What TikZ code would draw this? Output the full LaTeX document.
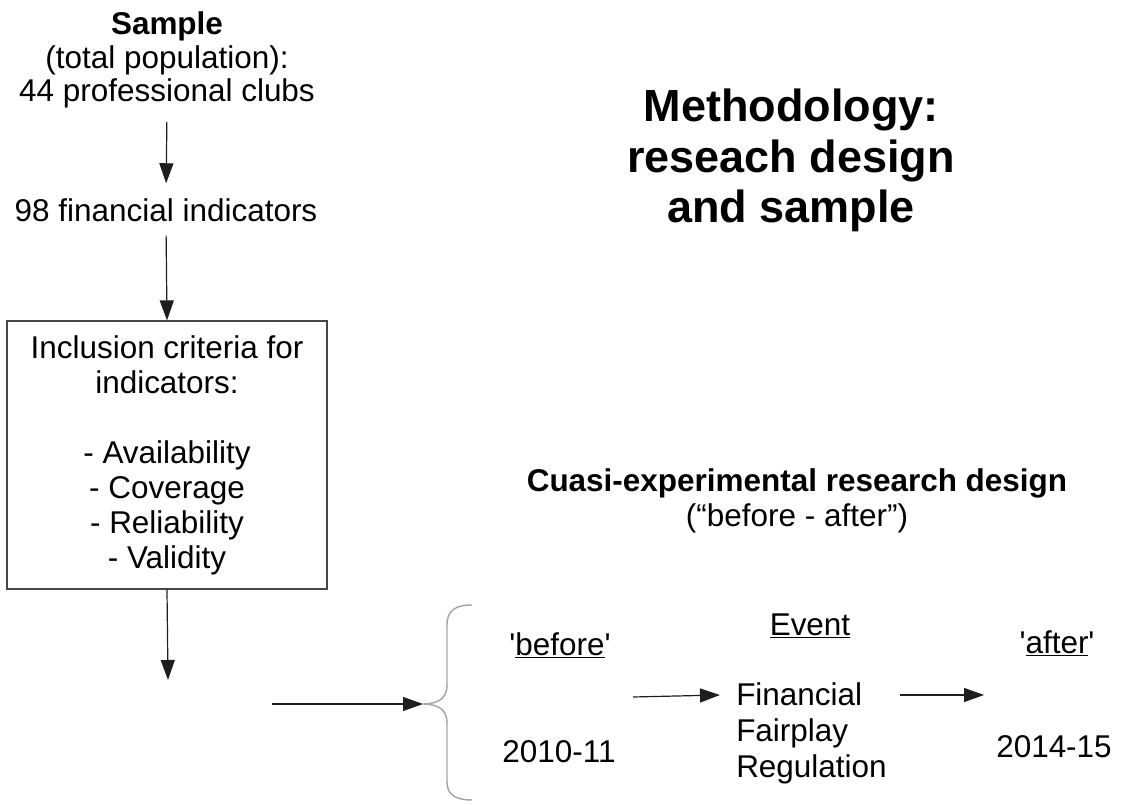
\documentclass[tikz,border=0pt]{standalone}
\usepackage{fontspec}
\setmainfont{Liberation Sans}[Ligatures=TeXOff]
\usetikzlibrary{arrows.meta}

\newcommand{\txtsize}{\fontsize{23.6pt}{25.2pt}\selectfont}
\newcommand{\headsize}{\fontsize{33.75pt}{37.9pt}\selectfont}

\begin{document}
\begin{tikzpicture}[x=0.75pt,y=0.75pt,yscale=-1,xscale=1,
  txt/.style={inner sep=0.75pt,font=\txtsize,align=center,color={rgb, 255:red, 0; green, 0; blue, 0 }},
  flow/.style={draw={rgb, 255:red, 30; green, 30; blue, 30 },line width=0.9pt,-{Triangle[length=15pt,width=10.5pt]}},
  curly/.style={draw={rgb, 255:red, 165; green, 165; blue, 165 },line width=1.1pt}]
\useasboundingbox (0,0) rectangle (1122,805);

% Text Node
\node (sample) [txt,anchor=base] at (167,102) {\textbf{Sample}\\(total population):\\44 professional clubs};
% Text Node
\node (indic) [txt,anchor=base] at (166,222) {98 financial indicators};
%Shape: Rectangle
\node (crit) [txt,draw={rgb, 255:red, 70; green, 70; blue, 70 },line width=0.9pt,minimum width=240pt,minimum height=201pt,font={\fontsize{23.6pt}{26.25pt}\selectfont}] at (167,455)
  {Inclusion criteria for\\indicators:\\[26.25pt]- Availability\\- Coverage\\- Reliability\\- Validity};
\coordinate (critout) at (168,680);

%Straight Lines
\draw [flow,shorten <=9pt,shorten >=11pt] (sample.south) -- (indic.north);
\draw [flow,shorten <=9pt] (indic.south) -- (crit.north);
\draw [flow] (crit.south) -- (critout);

% Text Node
\node (title) [txt,anchor=base,font=\headsize\bfseries] at (791,223) {Methodology:\\reseach design\\and sample};
% Text Node
\node (design) [txt,anchor=base,font={\fontsize{23.6pt}{26.25pt}\selectfont}] at (797,527) {\textbf{Cuasi-experimental research design}\\(“before - after”)};

%Shape: Brace
\coordinate (feed) at (272,704);
\coordinate (brtip) at (423,704);
\draw [curly] (472,605) .. controls (456,605) and (447,610) .. (447,625) -- (447,685) .. controls (447,697) and (440,704) .. (brtip) .. controls (440,704) and (447,711) .. (447,723) -- (447,782) .. controls (447,795) and (456,800) .. (472,800);
\draw [flow] (feed) -- (brtip);

% Text Node
\node (before) [txt,anchor=base] at (560,655) {'\underline{before}'};
\node (y1011) [txt,anchor=base] at (559,762) {2010-11};
\node (event) [txt,anchor=base] at (810,635) {\underline{Event}};
\node (ffr) [txt,anchor=base west,align=left,font={\fontsize{23.6pt}{27pt}\selectfont}] at (735,777) {Financial\\Fairplay\\Regulation};
\node (after) [txt,anchor=base] at (1057,653) {'\underline{after}'};
\node (y1415) [txt,anchor=base] at (1054,757) {2014-15};

%Straight Lines
\coordinate (befout) at (633,697);
\coordinate (ffrin) at (720,695);
\coordinate (ffrout) at (900,695);
\coordinate (aftin) at (984,695);
\draw [flow] (befout) -- (ffrin);
\draw [flow] (ffrout) -- (aftin);

\end{tikzpicture}
\end{document}
